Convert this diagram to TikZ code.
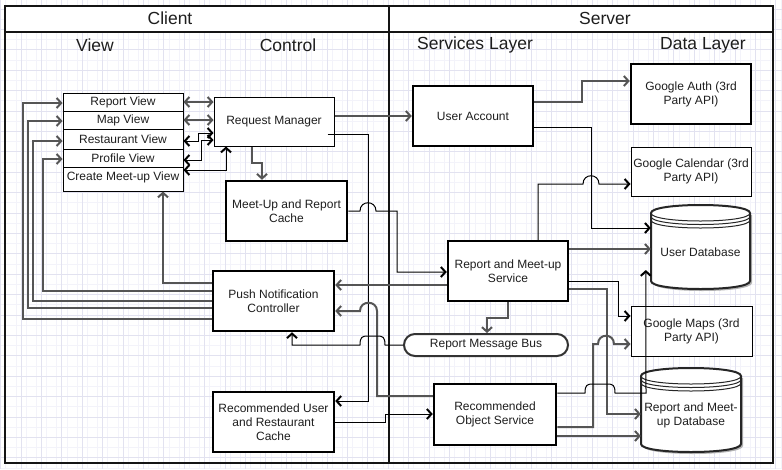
\documentclass[tikz,border=0pt]{standalone}
\usepackage{fontspec}
\setmainfont{Liberation Sans}
\usetikzlibrary{arrows.meta,calc}
\newcommand{\myNodeFont}{\fontsize{12}{14}\selectfont}
\newcommand{\myTitleFont}{\fontsize{17.5}{20}\selectfont}
\definecolor{gridminor}{RGB}{243,243,250}
\definecolor{gridmajor}{RGB}{226,226,240}
\definecolor{lin}{RGB}{85,85,85}
\definecolor{txt}{RGB}{30,30,30}
\definecolor{frame}{RGB}{20,20,20}
\begin{document}
\begin{tikzpicture}[x=1pt,y=-1pt,
  box/.style={draw=black, fill=white, line width=1pt, inner sep=0pt, align=center, font=\myNodeFont, text=txt},
  tbox/.style={box, line width=2.5pt},
  vrow/.style={box, minimum width=120pt},
  g/.style={draw=lin, line width=2pt},
  k/.style={draw=black, line width=1pt},
  ar/.style={-{Straight Barb[length=4.5pt,width=10pt,line width=2pt]}},
  lr/.style={{Straight Barb[length=4.5pt,width=10pt,line width=2pt]}-{Straight Barb[length=4.5pt,width=10pt,line width=2pt]}},
  ttl/.style={font=\myTitleFont, text=txt, inner sep=0pt},
  cyl/.style={draw=black!85, line width=2pt, fill=white},
  cylin/.style={draw=black!85, line width=1pt}
]
\useasboundingbox (0,0) rectangle (782,469);
\fill[white] (0,0) rectangle (782,469);
% grid
\foreach \i in {0,...,76} {
  \draw[gridminor, line width=0.7pt] ({5.7+\i*10.2},0) -- ({5.7+\i*10.2},469);
}
\foreach \i in {0,...,46} {
  \draw[gridminor, line width=0.7pt] (0,{-1.2+\i*10.2}) -- (782,{-1.2+\i*10.2});
}
\foreach \i in {0,...,38} {
  \draw[gridmajor, line width=0.7pt] ({0.6+\i*20.4},0) -- ({0.6+\i*20.4},469);
}
\foreach \i in {0,...,23} {
  \draw[gridmajor, line width=0.7pt] (0,{9+\i*20.4}) -- (782,{9+\i*20.4});
}
% containers
\fill[white] (5,6) rectangle (773,32);
\draw[frame, line width=2.5pt] (5,6) rectangle (389,463);
\draw[frame, line width=2.5pt] (389,6) rectangle (773,463);
\draw[frame, line width=2.5pt] (5,32) -- (773,32);
\node[ttl] (tclient) at (170,18) {Client};
\node[ttl] (tserver) at (605,18) {Server};
\node[ttl] (tview) at (95,45) {View};
\node[ttl] (tcontrol) at (288,45) {Control};
\node[ttl] (tservices) at (475,45) {Services Layer};
\node[ttl] (tdata) at (703,45) {Data Layer};

% view rows
\node[vrow, minimum height=18pt] (rv) at (123,102) {Report View};
\node[vrow, minimum height=18pt] (mv) at (123,120) {Map View};
\node[vrow, minimum height=20pt] (rsv) at (123,139) {Restaurant View};
\node[vrow, minimum height=18pt] (pv) at (123,158) {Profile View};
\node[vrow, minimum height=24pt, text height=8.6pt, text depth=6pt] (cv) at (123,179) {Create Meet-up View};

% control
\node[box, minimum width=120pt, minimum height=49pt] (rm) at (274,121.5) {Request Manager};
\node[tbox, minimum width=121pt, minimum height=60pt] (mrc) at (286.5,211) {Meet-Up and Report\\Cache};
\node[tbox, minimum width=121pt, minimum height=60pt] (pnc) at (273.5,301) {Push Notification\\Controller};
\node[tbox, minimum width=121pt, minimum height=60pt] (rurc) at (273.5,422) {Recommended User\\and Restaurant\\Cache};

% services
\node[tbox, minimum width=120pt, minimum height=60pt] (ua) at (473,116) {User Account};
\node[tbox, minimum width=120pt, minimum height=60pt] (rms) at (508,271) {Report and Meet-up\\Service};
\node[box, draw=black!80, line width=2pt, rounded corners=11pt, minimum width=164pt, minimum height=22pt] (rmb) at (486,345) {Report Message Bus};
\node[tbox, minimum width=122pt, minimum height=61pt] (ros) at (495,414.5) {Recommended\\Object Service};

% data
\node[tbox, minimum width=120pt, minimum height=60pt] (ga) at (691,94) {Google Auth (3rd\\Party API)};
\node[box, minimum width=120pt, minimum height=49pt] (gc) at (691,171.5) {Google Calendar (3rd\\Party API)};
\node[box, minimum width=121pt, minimum height=50pt] (gm) at (691.5,331) {Google Maps (3rd\\Party API)};

% user database cylinder
\fill[black!30] (653,215) -- (653,283) .. controls (653,293.67) and (752,293.67) .. (752,283) -- (752,215) -- cycle;
\draw[cyl] (651,213) -- (651,281) .. controls (651,291.67) and (750,291.67) .. (750,281) -- (750,213) .. controls (750,202.33) and (651,202.33) .. (651,213) -- cycle;
\draw[cylin] (651,213) .. controls (651,223.67) and (750,223.67) .. (750,213);
\draw[cylin] (651,216.5) .. controls (651,227.17) and (750,227.17) .. (750,216.5);
\draw[cylin] (651,220) .. controls (651,230.67) and (750,230.67) .. (750,220);
\node[minimum width=99pt, minimum height=84pt, inner sep=0pt] (udb) at (700.5,247) {};
\node[font=\myNodeFont, text=txt, inner sep=0pt] (udbtext) at (700.5,252) {User Database};

% report and meet-up database cylinder
\fill[black!30] (643,378) -- (643,446) .. controls (643,456.67) and (743,456.67) .. (743,446) -- (743,378) -- cycle;
\draw[cyl] (641,376) -- (641,444) .. controls (641,454.67) and (741,454.67) .. (741,444) -- (741,376) .. controls (741,365.33) and (641,365.33) .. (641,376) -- cycle;
\draw[cylin] (641,376) .. controls (641,386.67) and (741,386.67) .. (741,376);
\draw[cylin] (641,379.5) .. controls (641,390.17) and (741,390.17) .. (741,379.5);
\draw[cylin] (641,383) .. controls (641,393.67) and (741,393.67) .. (741,383);
\node[minimum width=100pt, minimum height=84pt, inner sep=0pt] (rmdb) at (691,410) {};
\node[font=\myNodeFont, text=txt, inner sep=0pt, align=center] (rmdbtext) at (691,415) {Report and Meet-\\up Database};

% ---- connectors: view <-> request manager
\draw[g,lr] (rv.east) -- (rv.east -| rm.west);
\draw[g,lr] (mv.east) -- (mv.east -| rm.west);
\draw[k,lr] (rsv.east |- 0,141) -- (198,141) -- (198,133) -- (rm.west |- 0,133);
\draw[k,lr] (pv.east |- 0,160) -- (201,160) -- (201,140) -- (rm.west |- 0,140);
\draw[k,lr] (cv.east |- 0,170) -- (226,170) -- (226,0 |- rm.south);

% request manager outputs
\draw[g,ar] (252,0 |- rm.south) -- (252,163) -- (262,163) -- (262,0 |- mrc.north);
\draw[g,ar] (rm.east |- ua.west) -- (ua.west);
\draw[k,ar] ($(rm.east |- 0,134)+(-7,0)$) -- (368,134) -- (368,401) -- (rurc.east |- 0,401);

% cache -> report & meet-up service
\draw[k,ar] (mrc.east) -- (360,211) .. controls (360,200) and (376,200) .. (376,211) -- (397,211) -- (397,272) -- (rms.west |- 0,272);

% push notification -> views
\draw[g,ar] (pnc.west |- 0,283) -- (163,283) -- (163,0 |- cv.south);
\draw[g,ar] (pnc.west |- 0,291) -- (43,291) -- (43,159) -- (pv.west |- 0,159);
\draw[g,ar] (pnc.west |- 0,301) -- (33,301) -- (33,141) -- (rsv.west |- 0,141);
\draw[g,ar] (pnc.west |- 0,308) -- (28,308) -- (28,121) -- (mv.west |- 0,121);
\draw[g,ar] (pnc.west |- 0,319) -- (23,319) -- (23,103) -- (rv.west |- 0,103);

% into push notification controller
\draw[g,ar] (rms.west |- 0,285) -- (pnc.east |- 0,285);
\draw[g,ar] (ros.west |- 0,396) -- (377,396) -- (377,311) .. controls (377,300) and (360,300) .. (360,311) -- (pnc.east |- 0,311);
\draw[k,ar] (rmb.west) -- (385,345) .. controls (385,337) and (383,336) .. (377,336) -- (368,336) .. controls (362,336) and (360,337) .. (360,345) -- (292,345) -- (292,0 |- pnc.south);

% cache -> recommended object service
\draw[k,ar] (rurc.east |- 0,422) -- (385,422) -- (385,414) -- (ros.west |- 0,414);

% user account
\draw[g,ar] (ua.east |- 0,102) -- (582,102) -- (582,81) -- (ga.west |- 0,81);
\draw[k,ar] (ua.east |- 0,127) -- (591,127) -- (591,228) -- (udb.west |- 0,228);

% report and meet-up service
\draw[k,ar] (538,0 |- rms.north) -- (538,184) -- (583,184) .. controls (583,173) and (599,173) .. (599,184) -- (gc.west |- 0,184);
\draw[g,ar] (rms.east |- 0,249) -- (udb.west |- 0,249);
\draw[k,ar] (rms.east |- 0,281) -- (618,281) -- (618,316) -- (gm.west |- 0,316);
\draw[g,ar] (rms.east |- 0,289) -- (607,289) -- (607,414) -- (rmdb.west |- 0,414);
\draw[g,ar] (508,0 |- rms.south) -- (508,318) -- (487,318) -- (487,0 |- rmb.north);

% recommended object service
\draw[g,ar] (ros.east |- 0,427) -- (593,427) -- (593,344) -- (598,344) .. controls (598,333) and (614,333) .. (614,344) -- (gm.west |- 0,344);
\draw[g,ar] (ros.east |- 0,436) -- (rmdb.west |- 0,436);
\draw[k,ar] (ros.east |- 0,393) -- (585,393) .. controls (585,385) and (587,384) .. (593,384) -- (607,384) .. controls (613,384) and (615,385) .. (615,393) -- (646,393) -- ($(udb.west)+(-5,23)$);
\end{tikzpicture}
\end{document}
